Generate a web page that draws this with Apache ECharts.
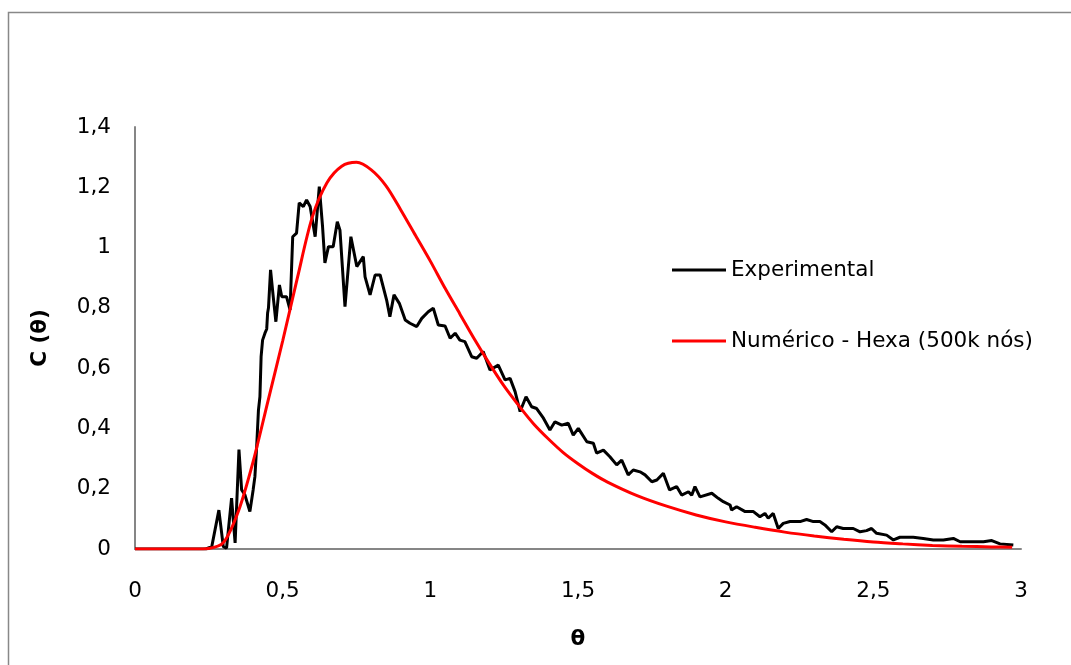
<!DOCTYPE html>
<html>
<head>
<meta charset="utf-8">
<script src="https://cdn.jsdelivr.net/npm/echarts@6/dist/echarts.min.js"></script>
<style>
html,body{margin:0;padding:0;background:#fff;}
#c{width:1071px;height:665px;}
</style>
</head>
<body>
<div id="c"></div>
<script>
// Experimental series (theta, C)
const expX = [0,0.05,0.1,0.15,0.2,0.24,0.26,0.284,0.299,0.31,0.327,0.339,0.352,0.361,0.372,0.389,0.40,0.406,0.412,0.418,0.423,0.427,0.432,0.44,0.446,0.449,0.452,0.459,0.468,0.477,0.489,0.497,0.513,0.525,0.534,0.547,0.556,0.57,0.581,0.587,0.593,0.598,0.61,0.624,0.635,0.643,0.655,0.671,0.685,0.694,0.711,0.731,0.751,0.773,0.779,0.796,0.813,0.83,0.852,0.863,0.877,0.895,0.915,0.931,0.954,0.971,0.993,1.01,1.027,1.05,1.067,1.084,1.10,1.117,1.14,1.157,1.179,1.202,1.23,1.253,1.27,1.287,1.304,1.324,1.343,1.36,1.383,1.405,1.422,1.445,1.467,1.484,1.501,1.53,1.552,1.563,1.586,1.608,1.631,1.648,1.67,1.687,1.71,1.727,1.75,1.767,1.789,1.81,1.834,1.851,1.874,1.885,1.896,1.913,1.953,1.975,1.992,2.015,2.02,2.037,2.066,2.094,2.116,2.133,2.144,2.161,2.178,2.195,2.218,2.252,2.274,2.297,2.319,2.336,2.359,2.376,2.398,2.432,2.455,2.477,2.494,2.511,2.545,2.568,2.59,2.635,2.669,2.703,2.737,2.771,2.794,2.839,2.873,2.901,2.929,2.974];
const expY = [0,0,0,0,0,0,0.008,0.129,0.008,0.003,0.169,0.02,0.33,0.196,0.18,0.124,0.196,0.24,0.34,0.461,0.505,0.638,0.693,0.716,0.73,0.783,0.80,0.926,0.837,0.754,0.876,0.837,0.837,0.793,1.036,1.048,1.148,1.136,1.158,1.16,1.136,1.13,1.036,1.202,1.07,0.949,1.003,1.003,1.086,1.058,0.804,1.036,0.937,0.97,0.903,0.843,0.909,0.909,0.826,0.771,0.843,0.815,0.76,0.749,0.738,0.765,0.787,0.799,0.743,0.74,0.699,0.716,0.693,0.688,0.638,0.633,0.655,0.594,0.61,0.561,0.566,0.522,0.456,0.505,0.472,0.466,0.434,0.395,0.422,0.411,0.417,0.378,0.40,0.356,0.351,0.318,0.328,0.306,0.279,0.295,0.246,0.262,0.256,0.246,0.223,0.229,0.251,0.196,0.207,0.179,0.19,0.178,0.207,0.173,0.185,0.168,0.157,0.146,0.129,0.14,0.124,0.124,0.107,0.118,0.102,0.118,0.068,0.085,0.091,0.091,0.098,0.091,0.091,0.08,0.057,0.074,0.068,0.068,0.057,0.061,0.068,0.052,0.046,0.03,0.039,0.039,0.035,0.03,0.03,0.035,0.024,0.024,0.024,0.028,0.017,0.013];

// Numerical series (theta, C)
const numX = [0,0.1,0.2,0.25,0.3,0.35,0.4,0.45,0.5,0.55,0.6,0.65,0.7,0.75,0.8,0.85,0.9,0.95,1.0,1.05,1.1,1.15,1.2,1.25,1.3,1.35,1.4,1.45,1.5,1.55,1.6,1.7,1.8,1.9,2.0,2.1,2.2,2.3,2.4,2.5,2.6,2.7,2.8,2.9,2.97];
const numY = [0,0,0,0.002,0.022,0.125,0.29,0.49,0.69,0.9,1.1,1.215,1.27,1.283,1.258,1.205,1.125,1.04,0.955,0.865,0.78,0.695,0.615,0.54,0.475,0.415,0.365,0.32,0.283,0.25,0.222,0.177,0.142,0.113,0.09,0.072,0.056,0.043,0.032,0.023,0.017,0.012,0.009,0.007,0.006];

const xTicks = {min:0, max:3, interval:0.5};
const yTicks = {min:0, max:1.4, interval:0.2};
const seriesNames = ['Experimental','Numérico - Hexa (500k nós)'];

const zip = (a,b) => a.map((v,i)=>[v,b[i]]);
const FONT = 'DejaVu Sans';
const FS = 21.5;
const fmt = v => (Math.round(v*10)/10).toString().replace('.', ',');

const chart = echarts.init(document.getElementById('c'), null, {renderer:'canvas'});
chart.setOption({
  backgroundColor:'#fff',
  animation:false,
  graphic:[{type:'rect', shape:{x:8.5,y:12.5,width:1100,height:720}, style:{fill:'none', stroke:'#888', lineWidth:1.5}, silent:true}],
  grid:{left:135, right:50, top:127, bottom:116, containLabel:false},
  legend:[
    {data:[seriesNames[0]], orient:'vertical', left:672, top:258, padding:0, itemWidth:54, itemHeight:3, itemGap:0,
     icon:'rect', textStyle:{fontFamily:FONT, fontSize:FS, color:'#000', lineHeight:24}},
    {data:[seriesNames[1]], orient:'vertical', left:672, top:329, padding:0, itemWidth:54, itemHeight:3, itemGap:0,
     icon:'rect', textStyle:{fontFamily:FONT, fontSize:FS, color:'#000', lineHeight:24}}
  ],
  xAxis:{type:'value', min:xTicks.min, max:xTicks.max, interval:xTicks.interval,
    name:'θ', nameLocation:'middle', nameGap:79,
    nameTextStyle:{fontFamily:FONT, fontSize:FS, fontWeight:'bold', color:'#000'},
    axisLine:{show:true, onZero:false, lineStyle:{color:'#868686', width:2}},
    axisTick:{show:false}, splitLine:{show:false},
    axisLabel:{formatter:fmt, fontFamily:FONT, fontSize:FS, color:'#000', margin:31}},
  yAxis:{type:'value', min:yTicks.min, max:yTicks.max, interval:yTicks.interval,
    name:'C (θ)', nameLocation:'middle', nameGap:84, nameRotate:90,
    nameTextStyle:{fontFamily:FONT, fontSize:FS, fontWeight:'bold', color:'#000'},
    axisLine:{show:true, lineStyle:{color:'#868686', width:2}},
    axisTick:{show:false}, splitLine:{show:false},
    axisLabel:{formatter:fmt, fontFamily:FONT, fontSize:FS, color:'#000', margin:24}},
  series:[
    {name:seriesNames[0], type:'line', data:zip(expX,expY), showSymbol:false, symbol:'none',
     color:'#000', lineStyle:{color:'#000', width:3}, z:2},
    {name:seriesNames[1], type:'line', data:zip(numX,numY), showSymbol:false, symbol:'none', smooth:0.3,
     color:'#f00', lineStyle:{color:'#f00', width:3}, z:3}
  ]
});
</script>
</body>
</html>
